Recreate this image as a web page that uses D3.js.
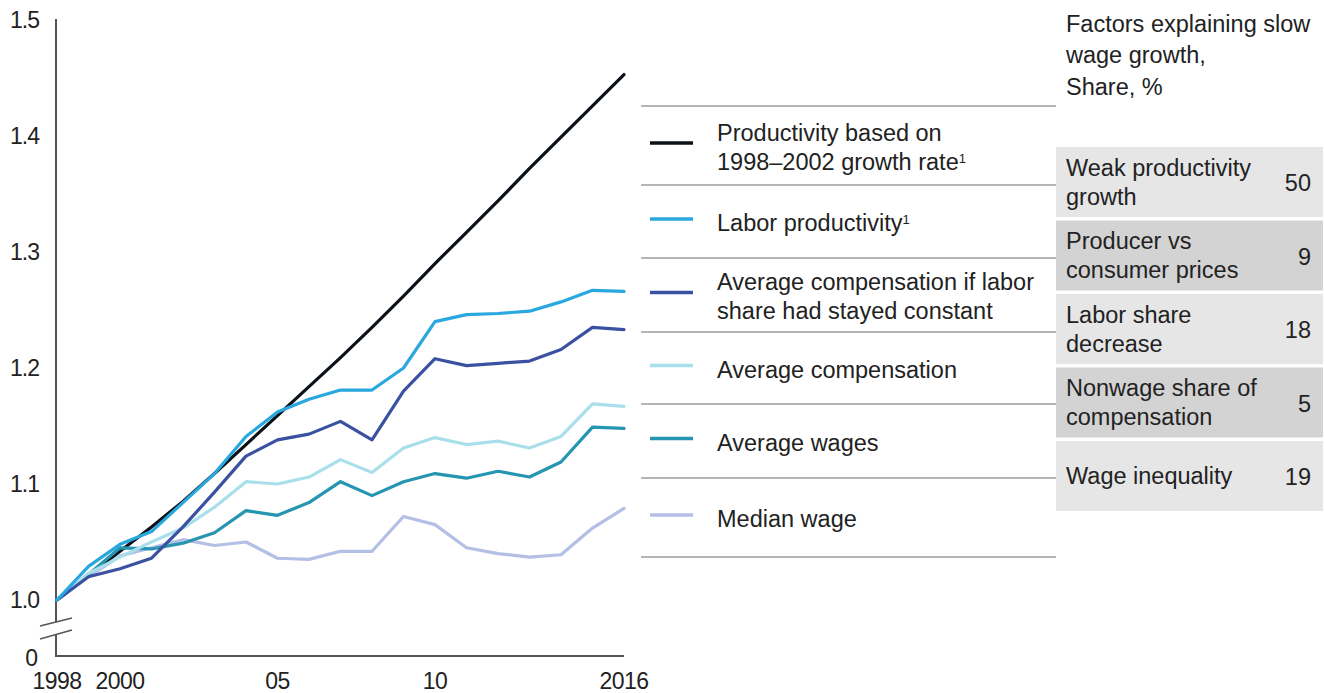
<!DOCTYPE html>
<html><head><meta charset="utf-8">
<script src="https://cdn.jsdelivr.net/npm/d3@7"></script>
<style>
body{margin:0;background:#fff;}
svg{display:block;font-family:"Liberation Sans",Arial,sans-serif;}
</style></head>
<body><svg id="c" width="1325" height="693"></svg>
<script>
const years = d3.range(1998, 2017);
const productivityTrend = [1.000,1.021,1.042,1.063,1.085,1.109,1.134,1.159,1.184,1.209,1.235,1.262,1.290,1.317,1.344,1.372,1.399,1.426,1.453];
const laborProductivity = [1.000,1.029,1.048,1.059,1.084,1.109,1.141,1.162,1.173,1.181,1.181,1.200,1.240,1.246,1.247,1.249,1.257,1.267,1.266];
const compIfConstant = [1.000,1.020,1.027,1.036,1.063,1.093,1.124,1.138,1.143,1.154,1.138,1.180,1.208,1.202,1.204,1.206,1.216,1.235,1.233];
const avgCompensation = [1.000,1.023,1.037,1.050,1.062,1.080,1.102,1.100,1.106,1.121,1.110,1.131,1.140,1.134,1.137,1.131,1.141,1.169,1.167];
const avgWages = [1.000,1.022,1.045,1.044,1.049,1.058,1.077,1.073,1.084,1.102,1.090,1.102,1.109,1.105,1.111,1.106,1.119,1.149,1.148];
const medianWage = [1.000,1.020,1.038,1.045,1.052,1.047,1.050,1.036,1.035,1.042,1.042,1.072,1.065,1.045,1.040,1.037,1.039,1.062,1.079];

const seriesNames = [
  ["Productivity based on", "1998\u20132002 growth rate\u00b9"],
  ["Labor productivity\u00b9"],
  ["Average compensation if labor", "share had stayed constant"],
  ["Average compensation"],
  ["Average wages"],
  ["Median wage"]
];
const seriesValues = [productivityTrend, laborProductivity, compIfConstant, avgCompensation, avgWages, medianWage];
const seriesColors = ["#0b1119", "#29a7df", "#3a51a2", "#a9dfea", "#2595b1", "#b3bfe4"];

const yTicks = [1.0, 1.1, 1.2, 1.3, 1.4, 1.5];
const xTickYears = [1998, 2000, 2005, 2010, 2016];
const xTickLabels = ["1998", "2000", "05", "10", "2016"];

const factorTitle = ["Factors explaining slow", "wage growth,", "Share, %"];
const factorLabels = [["Weak productivity", "growth"], ["Producer vs", "consumer prices"], ["Labor share", "decrease"], ["Nonwage share of", "compensation"], ["Wage inequality"]];
const factorValues = [50, 9, 18, 5, 19];

const svg = d3.select("#c");
const x = d3.scaleLinear().domain([1998, 2016]).range([57, 624]);
const y = d3.scaleLinear().domain([1.0, 1.5]).range([600, 20]);
const axisColor = "#555";
const fs = 23.5;
const tfs = 23;
const txt = "#222";

// y axis line with break
svg.append("line").attr("x1",56).attr("x2",56).attr("y1",19).attr("y2",622).attr("stroke",axisColor).attr("stroke-width",2);
svg.append("line").attr("x1",56).attr("x2",56).attr("y1",634).attr("y2",657).attr("stroke",axisColor).attr("stroke-width",2);
svg.append("line").attr("x1",40).attr("y1",626).attr("x2",72).attr("y2",618).attr("stroke",axisColor).attr("stroke-width",1.5);
svg.append("line").attr("x1",40).attr("y1",639).attr("x2",72).attr("y2",630).attr("stroke",axisColor).attr("stroke-width",1.5);
// x axis
svg.append("line").attr("x1",55).attr("x2",624).attr("y1",656).attr("y2",656).attr("stroke",axisColor).attr("stroke-width",2);

// y tick labels
svg.selectAll(".yt").data(yTicks).enter().append("text")
  .attr("x",39).attr("y",d=>y(d)).attr("dy","0.35em").attr("text-anchor","end")
  .attr("font-size",tfs).attr("fill",txt).attr("letter-spacing","-1")
  .text(d=>d.toFixed(1));
svg.append("text").attr("x",38).attr("y",658).attr("dy","0.35em").attr("text-anchor","end")
  .attr("font-size",tfs).attr("fill",txt).text("0");

// x tick labels
svg.selectAll(".xt").data(xTickYears).enter().append("text")
  .attr("x",d=>x(d)).attr("y",689).attr("text-anchor","middle")
  .attr("font-size",tfs).attr("fill",txt).attr("letter-spacing","-0.6")
  .text((d,i)=>xTickLabels[i]);

// lines
const line = d3.line().x((d,i)=>x(years[i])).y(d=>y(d));
const drawOrder = [0,5,4,3,2,1];
drawOrder.forEach(k=>{
  svg.append("path").datum(seriesValues[k]).attr("d",line)
    .attr("fill","none").attr("stroke",seriesColors[k]).attr("stroke-width",3.2)
    .attr("stroke-linejoin","round").attr("stroke-linecap","round");
});

// legend
const sepY = [106,185,258,332,404,478,557];
sepY.forEach(v=>{
  svg.append("line").attr("x1",641).attr("x2",1056).attr("y1",v).attr("y2",v).attr("stroke","#b5b5b5").attr("stroke-width",2);
});
seriesNames.forEach((lines,i)=>{
  const rc = (sepY[i]+sepY[i+1])/2;
  const sy = rc - 2.5;
  svg.append("line").attr("x1",650).attr("x2",693).attr("y1",sy).attr("y2",sy)
    .attr("stroke",seriesColors[i]).attr("stroke-width",3.5);
  const t = svg.append("text").attr("font-size",fs).attr("fill",txt);
  const lh = 29;
  const start = rc + 1.5 - (lines.length-1)*lh/2;
  lines.forEach((s,j)=>{
    const m = s.match(/^(.*?)(\u00b9)?$/);
    t.append("tspan").attr("x",717).attr("y",start+j*lh).attr("dy","0.35em").text(m[1]);
    if(m[2]){ t.append("tspan").attr("dy","-0.55em").attr("font-size",13).text("1"); }
  });
});

// factor title
factorTitle.forEach((s,i)=>{
  svg.append("text").attr("x",1066).attr("y",23.5+i*31.5).attr("dy","0.35em")
    .attr("font-size",fs).attr("fill",txt).text(s);
});
// factor boxes
const boxTop = 147, boxH = 70, boxGap = 3.5;
factorLabels.forEach((lines,i)=>{
  const top = boxTop + i*(boxH+boxGap);
  svg.append("rect").attr("x",1056).attr("y",top).attr("width",267).attr("height",boxH)
    .attr("fill", i%2===1 ? "#d3d3d3" : "#e6e6e6");
  const cy = top + boxH/2;
  const start = cy - (lines.length-1)*14.5;
  lines.forEach((s,j)=>{
    svg.append("text").attr("x",1066).attr("y",start+j*29).attr("dy","0.35em")
      .attr("font-size",fs).attr("fill",txt).text(s);
  });
  svg.append("text").attr("x",1311).attr("y",cy+1).attr("dy","0.35em").attr("text-anchor","end")
    .attr("font-size",fs).attr("fill",txt).text(factorValues[i]);
});
</script></body></html>
